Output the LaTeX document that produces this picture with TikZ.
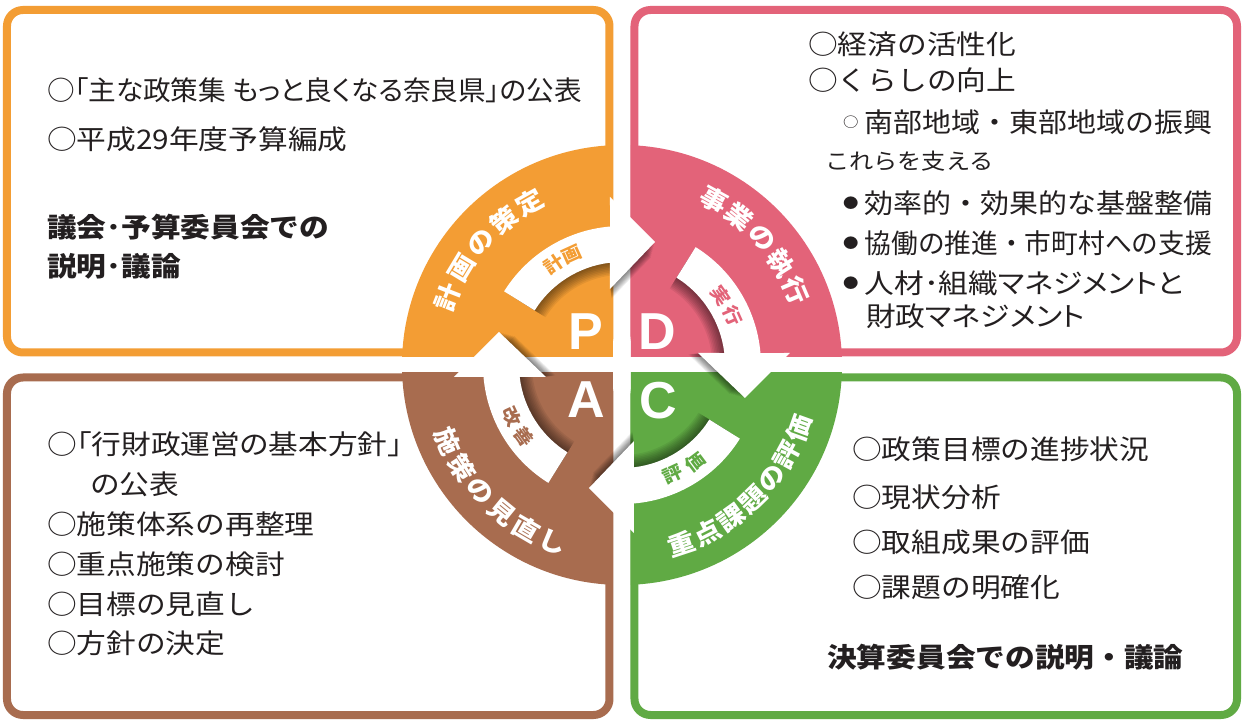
\documentclass[tikz,border=0pt]{standalone}
\usepackage{fontspec}
\newfontfamily\jp{Noto Sans CJK JP}[FakeStretch=1.1]
\newfontfamily\jpp{Noto Sans CJK JP}[FakeStretch=1.1,RawFeature=+palt]
\newfontfamily\lat{Liberation Sans}
\definecolor{cO}{HTML}{F39D34}
\definecolor{cP}{HTML}{E36379}
\definecolor{cB}{HTML}{A86C4F}
\definecolor{cG}{HTML}{60AA44}
\definecolor{ink}{HTML}{231F20}
\newcommand\cycarrow{(148:139) arc[start angle=148,end angle=94.95,radius=139] -- (-12,168) -- (33,123) -- (-12,76) -- (96.69:103) arc[start angle=96.69,end angle=148,radius=103] -- cycle}
\begin{document}
\begin{tikzpicture}[x=1pt,y=1pt,
  txt/.style={anchor=west,inner sep=0pt,text=ink,font=\jp\fontsize{27}{32}\selectfont},
  ptxt/.style={anchor=west,inner sep=0pt,text=ink,font=\jpp\fontsize{27}{32}\selectfont},
  btxt/.style={anchor=west,inner sep=0pt,text=ink,font=\jp\bfseries\fontsize{27}{32}\selectfont},
  stxt/.style={anchor=west,inner sep=0pt,text=ink,font=\jp\fontsize{22}{26}\selectfont},
  sec/.style={inner sep=0pt,text=white,font=\jp\bfseries\fontsize{25}{25}\selectfont},
  arl/.style={inner sep=0pt,font=\jp\bfseries\fontsize{18}{18}\selectfont},
  letter/.style={inner sep=0pt,text=white,font=\lat\bfseries\fontsize{52}{52}\selectfont},
  boxframe/.style={line width=8pt,rounded corners=16pt}
]
\useasboundingbox (-622,-355) rectangle (621,365);
\fill[white] (-622,-355) rectangle (621,365);
% boxes
\draw[boxframe,cO] (-615,12.5) rectangle (-12.5,355);
\draw[boxframe,cP] (12.5,12.5) rectangle (615,355);
\draw[boxframe,cB] (-615,-350) rectangle (-12.5,-12.5);
\draw[boxframe,cG] (12.5,-350) rectangle (615,-12.5);
% sectors
\begin{scope}\clip (-300,8.5) rectangle (-9,300); \fill[cO] (0,0) circle[radius=220]; \end{scope}
\begin{scope}\clip (9,8.5) rectangle (300,300); \fill[cP] (0,0) circle[radius=220]; \end{scope}
\begin{scope}\clip (-300,-8) rectangle (-9,-300); \fill[cB] (0,0) circle[radius=220]; \end{scope}
\begin{scope}\clip (9,-8) rectangle (300,-300); \fill[cG] (0,0) circle[radius=220]; \end{scope}
% arrow shadows
\foreach \r in {0,-90,-180,-270}{
  \foreach \s in {0.995,0.98,0.965,0.95,0.935,0.92,0.905,0.89,0.875}{
    \begin{scope}[rotate=\r,scale=\s]
      \fill[black,opacity=0.065] \cycarrow;
    \end{scope}
  }
}
% arrows
\foreach \r in {0,-90,-180,-270}{
  \begin{scope}[rotate=\r]
    \fill[white] \cycarrow;
  \end{scope}
}
% sector labels
\foreach \c [count=\i from 0] in {計,画,の,策,定}{
  \pgfmathsetmacro\a{158.7-9.8*\i}
  \node[sec,rotate=\a-90] (so\i) at (\a:187) {\c};
}
\foreach \c [count=\i from 0] in {事,業,の,執,行}{
  \pgfmathsetmacro\a{61-9.45*\i}
  \node[sec,rotate=\a-90] (sp\i) at (\a:189) {\c};
}
\foreach \c [count=\i from 0] in {施,策,の,見,直,し}{
  \pgfmathsetmacro\a{-156.3+9*\i}
  \node[sec,rotate=\a+90] (sb\i) at (\a:190) {\c};
}
\foreach \c [count=\i from 0] in {重,点,課,題,の,評,価}{
  \pgfmathsetmacro\a{-71.7+8.65*\i}
  \node[sec,rotate=\a+90] (sg\i) at (\a:188) {\c};
}
% arrow labels
\node[arl,text=cO,rotate=34] (ao1) at (124:121) {計};
\node[arl,text=cO,rotate=24.5] (ao2) at (114.5:121) {画};
\node[arl,text=cP,rotate=-55] (ap1) at (35:121) {実};
\node[arl,text=cP,rotate=-66] (ap2) at (24:121) {行};
\node[arl,text=cG,rotate=25] (ag1) at (-65:121) {評};
\node[arl,text=cG,rotate=37] (ag2) at (-53:121) {価};
\node[arl,text=cB,rotate=-65] (ab1) at (-155:121) {改};
\node[arl,text=cB,rotate=-54] (ab2) at (-144:121) {善};
% PDCA letters
\node[letter] (LP) at (-36,33) {P};
\node[letter] (LD) at (35,33) {D};
\node[letter] (LA) at (-36,-35) {A};
\node[letter] (LC) at (36,-36) {C};
% texts: Plan
\node[ptxt] (o1) at (-575,275) {\scalebox{0.93}[1]{○「主な政策集 もっと良くなる奈良県」の公表}};
\node[txt] (o2) at (-575,226) {○平成29年度予算編成};
\node[btxt] (o3) at (-575,138) {議会･予算委員会での};
\node[btxt] (o4) at (-575,99) {説明･議論};
% Do
\node[txt] (p1) at (186,321) {○経済の活性化};
\node[txt] (p2) at (186,285) {○くらしの向上};
\node[txt] (p3) at (221,243) {\raisebox{5pt}{\fontsize{14}{14}\selectfont ○}\hspace{6pt}\scalebox{0.975}[1]{南部地域・東部地域の振興}};
\node[stxt] (p4) at (203,204) {これらを支える};
\node[txt] (p5) at (221,162) {\raisebox{4.5pt}{\fontsize{14}{14}\selectfont ●}\hspace{6pt}\scalebox{0.975}[1]{効率的・効果的な基盤整備}};
\node[txt] (p6) at (221,122) {\raisebox{4.5pt}{\fontsize{14}{14}\selectfont ●}\hspace{6pt}\scalebox{0.9}[1]{協働の推進・市町村への支援}};
\node[ptxt] (p7) at (221,82) {\raisebox{4.5pt}{\fontsize{14}{14}\selectfont ●}\hspace{6pt}人材･組織マネジメントと};
\node[ptxt] (p8) at (244,49) {財政マネジメント};
% Act
\node[ptxt] (a1) at (-575,-79) {○「行財政運営の基本方針」};
\node[txt] (a2) at (-532,-119) {の公表};
\node[txt] (a3) at (-575,-159) {○施策体系の再整理};
\node[txt] (a4) at (-575,-199) {○重点施策の検討};
\node[txt] (a5) at (-575,-239) {○目標の見直し};
\node[txt] (a6) at (-575,-278) {○方針の決定};
% Check
\node[txt] (c1) at (230,-84) {○政策目標の進捗状況};
\node[txt] (c2) at (230,-132) {○現状分析};
\node[txt] (c3) at (230,-177) {○取組成果の評価};
\node[txt] (c4) at (230,-222) {○課題の明確化};
\node[btxt] (c5) at (205,-292) {決算委員会での説明・議論};
\end{tikzpicture}
\end{document}
